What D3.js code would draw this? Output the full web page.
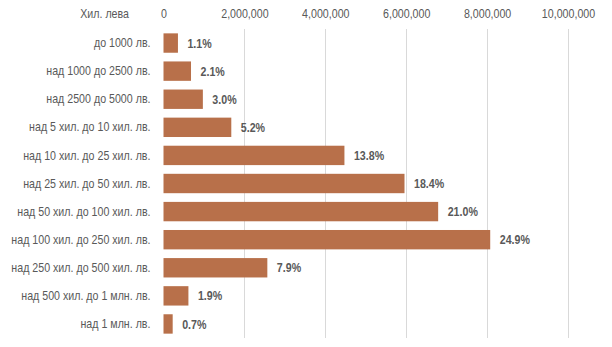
<!DOCTYPE html>
<html><head><meta charset="utf-8">
<script src="https://cdn.jsdelivr.net/npm/d3@7"></script>
<style>
body{margin:0;background:#fff;}
text{font-family:"Liberation Sans",Arial,sans-serif;}
</style></head><body>
<svg id="c" width="612" height="347"></svg>
<script>
const categories = ["до 1000 лв.","над 1000 до 2500 лв.","над 2500 до 5000 лв.","над 5 хил. до 10 хил. лв.","над 10 хил. до 25 хил. лв.","над 25 хил. до 50 хил. лв.","над 50 хил. до 100 хил. лв.","над 100 хил. до 250 хил. лв.","над 250 хил. до 500 хил. лв.","над 500 хил. до 1 млн. лв.","над 1 млн. лв."];
const values = [357000, 680000, 973000, 1676000, 4473000, 5958000, 6790000, 8077000, 2567000, 616000, 227000];
const shares = ["1.1%","2.1%","3.0%","5.2%","13.8%","18.4%","21.0%","24.9%","7.9%","1.9%","0.7%"];
const tickValues = [0, 2000000, 4000000, 6000000, 8000000, 10000000];
const axisTitle = "Хил. лева";

const SX = 0.82; // emulate a narrow face
const svg = d3.select("#c");
const x = d3.scaleLinear().domain([0, 10000000]).range([163.5, 568]);
const y = d3.scaleBand().domain(categories).range([29, 338]).paddingInner(0.31).paddingOuter(0.155);

// gridlines
svg.append("g").selectAll("line").data(tickValues.slice(1)).join("line")
  .attr("x1", d => x(d)).attr("x2", d => x(d))
  .attr("y1", 29).attr("y2", 338)
  .attr("stroke", "#d9d9d9").attr("stroke-width", 1).attr("shape-rendering","crispEdges");

// top axis
const ax = svg.append("g").attr("transform", "translate(0,17.5)")
  .call(d3.axisTop(x).tickValues(tickValues).tickSize(0).tickPadding(0).tickFormat(d3.format(",")));
ax.select(".domain").remove();
ax.selectAll("text").attr("fill", "#595959").attr("font-size", 13).attr("dy", 0)
  .attr("transform", `scale(${SX},1)`);

svg.append("g").attr("transform", "translate(129,17.5)")
  .append("text").attr("text-anchor", "end").attr("transform", `scale(${SX},1)`)
  .attr("fill", "#595959").attr("font-size", 13).text(axisTitle);

// bars
svg.append("g").selectAll("rect").data(values).join("rect")
  .attr("x", x(0)).attr("y", (d, i) => y(categories[i]))
  .attr("width", d => x(d) - x(0)).attr("height", y.bandwidth())
  .attr("fill", "#b8704a");

// y axis labels
const ay = svg.append("g").attr("transform", `translate(${x(0) - 13},0)`)
  .call(d3.axisLeft(y).tickSize(0).tickPadding(0));
ay.select(".domain").remove();
ay.selectAll("text").attr("fill", "#595959").attr("font-size", 13).attr("x", 0)
  .attr("transform", `scale(${SX},1)`);

// value labels
svg.append("g").selectAll("g").data(values).join("g")
  .attr("transform", (d, i) => `translate(${x(d) + 9.5},${y(categories[i]) + y.bandwidth() / 2})`)
  .append("text").attr("transform", `scale(${SX},1)`)
  .attr("dy", "0.35em").attr("fill", "#595959").attr("font-size", 13).attr("font-weight", "bold")
  .text((d, i) => shares[i]);
</script></body></html>
